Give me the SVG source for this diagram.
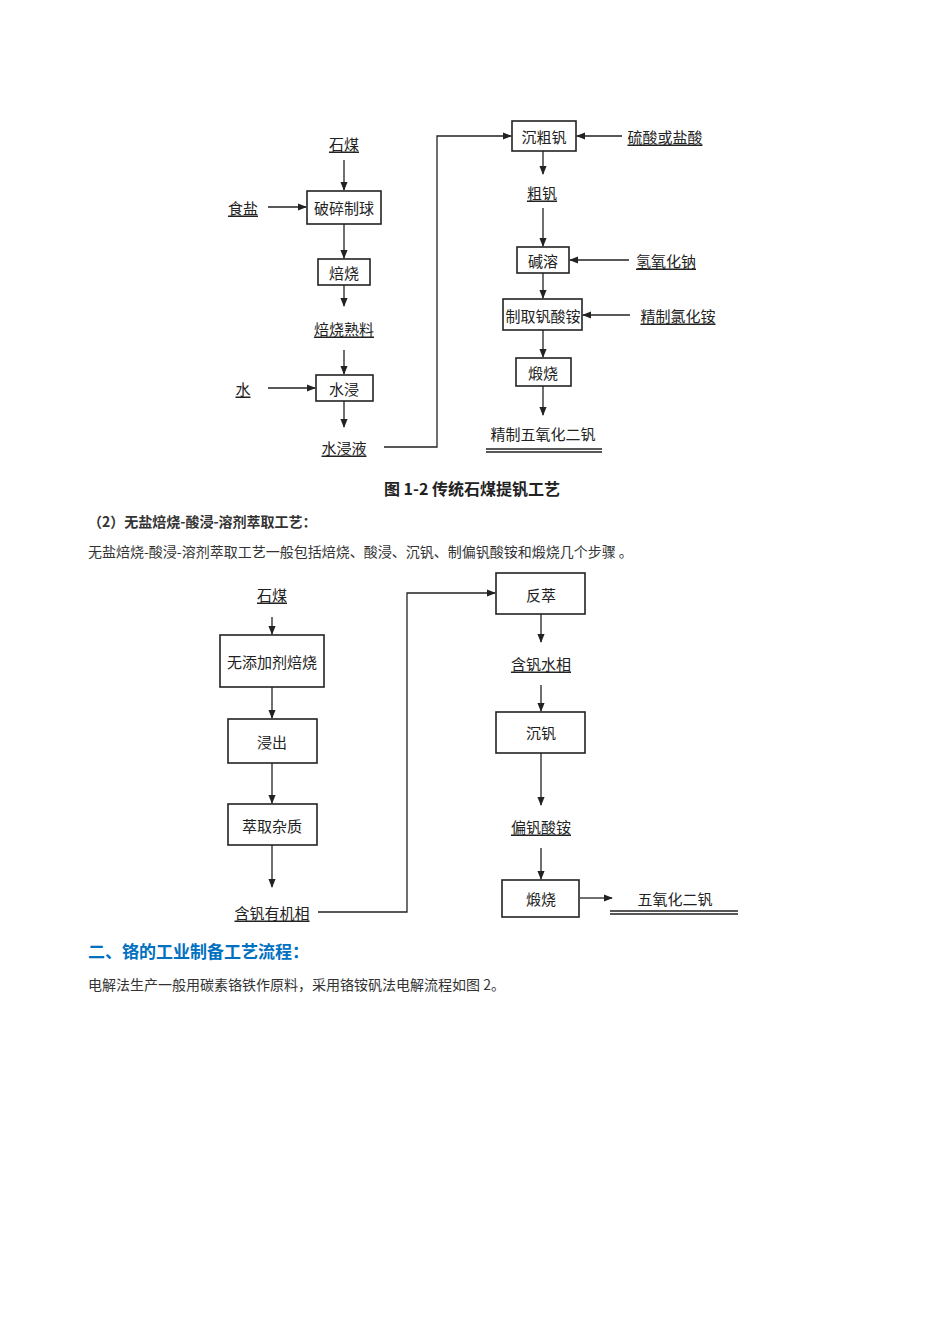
<svg xmlns="http://www.w3.org/2000/svg" width="950" height="1344" viewBox="0 0 950 1344">
<defs>
<marker id="ah" viewBox="0 0 10 10" refX="9" refY="5" markerWidth="7" markerHeight="7" orient="auto"><path d="M0,1 L10,5 L0,9 z" fill="#222"/></marker>
<style>
.b{fill:#fff;stroke:#222;stroke-width:1.6}
.t{font-family:"Noto Sans CJK SC","Noto Sans",sans-serif;font-size:15px;fill:#222;text-anchor:middle;dominant-baseline:central}
.u{text-decoration:underline}
.c{stroke:#222;stroke-width:1.3;fill:none}
.a{stroke:#222;stroke-width:1.3;fill:none;marker-end:url(#ah)}
.p{font-family:"Noto Sans CJK SC","Noto Sans",sans-serif;font-size:14px;fill:#333}
</style>
</defs>
<rect width="950" height="1344" fill="#fff"/>
<g id="d1-nodes">
<g id="n-shimei1"><text class="t u" x="344" y="143">石煤</text></g>
<g id="n-posui"><rect class="b" x="307" y="191" width="74" height="33"/><text class="t" x="344" y="207">破碎制球</text></g>
<g id="n-shiyan"><text class="t u" x="243" y="207">食盐</text></g>
<g id="n-beishao"><rect class="b" x="318" y="259" width="52" height="26"/><text class="t" x="344" y="272">焙烧</text></g>
<g id="n-shuliao"><text class="t u" x="344" y="328">焙烧熟料</text></g>
<g id="n-shuijin"><rect class="b" x="316" y="375" width="57" height="26"/><text class="t" x="344" y="388">水浸</text></g>
<g id="n-shui"><text class="t u" x="243" y="388">水</text></g>
<g id="n-shuijinye"><text class="t u" x="344" y="447">水浸液</text></g>
<g id="n-chencu"><rect class="b" x="512" y="121" width="64" height="30"/><text class="t" x="544" y="136">沉粗钒</text></g>
<g id="n-liusuan"><text class="t u" x="665" y="136">硫酸或盐酸</text></g>
<g id="n-cufan"><text class="t u" x="542" y="192">粗钒</text></g>
<g id="n-jianrong"><rect class="b" x="517" y="247" width="52" height="26"/><text class="t" x="543" y="260">碱溶</text></g>
<g id="n-naoh"><text class="t u" x="666" y="260">氢氧化钠</text></g>
<g id="n-zhiqu"><rect class="b" x="503" y="299" width="79" height="31"/><text class="t" x="543" y="315">制取钒酸铵</text></g>
<g id="n-nh4cl"><text class="t u" x="678" y="315">精制氯化铵</text></g>
<g id="n-duanshao1"><rect class="b" x="516" y="358" width="55" height="28"/><text class="t" x="543" y="372">煅烧</text></g>
<g id="n-v2o5-1"><text class="t" x="543" y="433">精制五氧化二钒</text><path class="c" d="M486,449 H602 M486,452 H602" stroke-width="1"/></g>
<text x="472" y="488" font-family="Noto Sans CJK SC,sans-serif" font-size="16" font-weight="bold" fill="#222" text-anchor="middle" dominant-baseline="central">图 1-2 传统石煤提钒工艺</text>
</g>
<g id="d1-connectors">
<path class="a" d="M344,160 V190"/>
<path class="a" d="M268,207 H306"/>
<path class="a" d="M344,224 V258"/>
<path class="a" d="M344,285 V306"/>
<path class="a" d="M344,350 V374"/>
<path class="a" d="M268,388 H315"/>
<path class="a" d="M344,401 V427"/>
<path class="a" d="M384,447 H437 V136 H511"/>
<path class="a" d="M622,136 H577"/>
<path class="a" d="M543,151 V174"/>
<path class="a" d="M543,208 V246"/>
<path class="a" d="M629,260 H570"/>
<path class="a" d="M543,273 V298"/>
<path class="a" d="M630,315 H583"/>
<path class="a" d="M543,330 V357"/>
<path class="a" d="M543,386 V415"/>
</g>
<text class="p" x="88" y="527" font-weight="bold" fill="#222">（2）无盐焙烧-酸浸-溶剂萃取工艺：</text>
<text class="p" x="88" y="557">无盐焙烧-酸浸-溶剂萃取工艺一般包括焙烧、酸浸、沉钒、制偏钒酸铵和煅烧几个步骤 。</text>
<g id="d2-nodes">
<g id="m-shimei"><text class="t u" x="272" y="594">石煤</text></g>
<g id="m-wutianjia"><rect class="b" x="220" y="635" width="104" height="52"/><text class="t" x="272" y="661">无添加剂焙烧</text></g>
<g id="m-jinchu"><rect class="b" x="228" y="719" width="89" height="44"/><text class="t" x="272" y="741">浸出</text></g>
<g id="m-cuiqu"><rect class="b" x="228" y="804" width="89" height="41"/><text class="t" x="272" y="825">萃取杂质</text></g>
<g id="m-youji"><text class="t u" x="272" y="912">含钒有机相</text></g>
<g id="m-fancui"><rect class="b" x="496" y="573" width="89" height="41"/><text class="t" x="541" y="594">反萃</text></g>
<g id="m-shuixiang"><text class="t u" x="541" y="663">含钒水相</text></g>
<g id="m-chenfan"><rect class="b" x="496" y="712" width="89" height="41"/><text class="t" x="541" y="732">沉钒</text></g>
<g id="m-pianfan"><text class="t u" x="541" y="826">偏钒酸铵</text></g>
<g id="m-duanshao"><rect class="b" x="502" y="880" width="77" height="37"/><text class="t" x="541" y="898">煅烧</text></g>
<g id="m-v2o5"><text class="t" x="675" y="898">五氧化二钒</text><path class="c" d="M610,911 H738 M610,914 H738" stroke-width="1"/></g>
</g>
<g id="d2-connectors">
<path class="a" d="M272,617 V634"/>
<path class="a" d="M272,687 V718"/>
<path class="a" d="M272,763 V803"/>
<path class="a" d="M272,845 V887"/>
<path class="a" d="M318,912 H407 V593 H495"/>
<path class="a" d="M541,614 V642"/>
<path class="a" d="M541,685 V711"/>
<path class="a" d="M541,753 V805"/>
<path class="a" d="M541,848 V879"/>
<path class="a" d="M580,898 H612"/>
</g>
<text x="88" y="958" font-family="Noto Sans CJK SC,sans-serif" font-size="17" font-weight="bold" fill="#0070C0">二、铬的工业制备工艺流程：</text>
<text class="p" x="88" y="990">电解法生产一般用碳素铬铁作原料，采用铬铵矾法电解流程如图 2。</text>
</svg>
